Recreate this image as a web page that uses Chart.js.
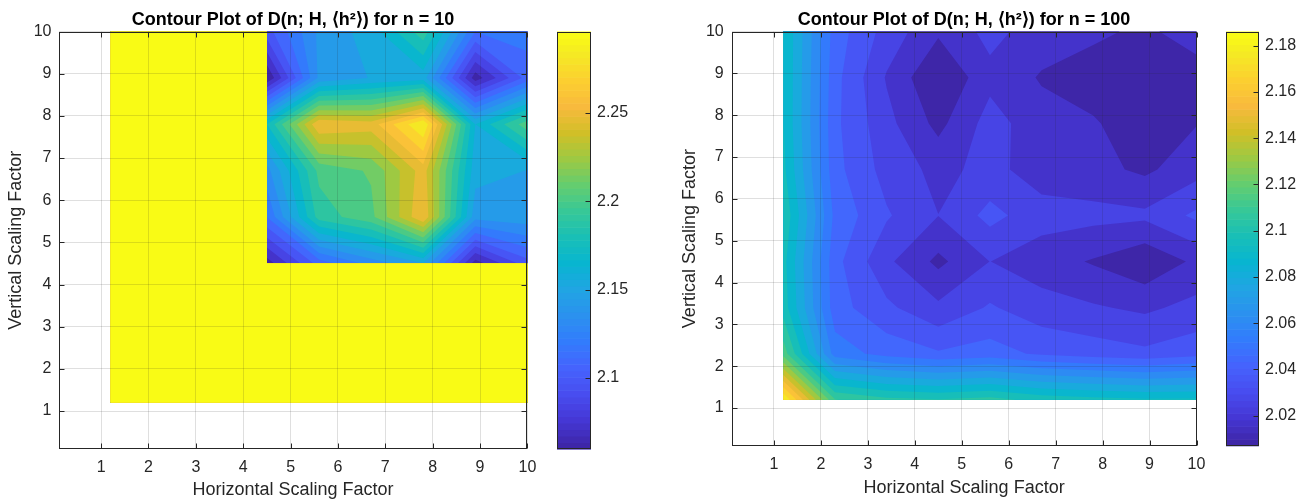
<!DOCTYPE html>
<html>
<head>
<meta charset="utf-8">
<script src="https://cdn.jsdelivr.net/npm/chart.js@4.4.1/dist/chart.umd.min.js"></script>
<style>
  body { margin: 0; background: #fff; width: 1307px; height: 501px; overflow: hidden; position: relative; }
  canvas { position: absolute; top: 0; }
</style>
</head>
<body>
<canvas id="mapN10" width="545" height="501" style="left:0px"></canvas>
<canvas id="barN10" width="90" height="501" style="left:557px"></canvas>
<canvas id="mapN100" width="541" height="501" style="left:674px"></canvas>
<canvas id="barN100" width="81" height="501" style="left:1226px"></canvas>
<script>
// sampling grid of the scaling factors (same for both maps)
const xFactors = [1.2, 2.3, 3.4, 4.5, 5.6, 6.7, 7.8, 8.9, 10];
const yFactors = [1.2, 2.3, 3.4, 4.5, 5.6, 6.7, 7.8, 8.9, 10];
const axisTicks = [1, 2, 3, 4, 5, 6, 7, 8, 9, 10];

const INF = Infinity;
// D(n; H, <h^2>), rows from vertical factor 10 down to 1.2
const dimN10 = [
  [INF, INF, INF, 2.102, 2.145, 2.160, 2.197, 2.119, 2.124],
  [INF, INF, INF, 2.0598, 2.145, 2.155, 2.160, 2.065, 2.112],
  [INF, INF, INF, 2.178, 2.260, 2.255, 2.2961, 2.166, 2.209],
  [INF, INF, INF, 2.138, 2.205, 2.215, 2.255, 2.159, 2.154],
  [INF, INF, INF, 2.119, 2.195, 2.210, 2.260, 2.147, 2.150],
  [INF, INF, INF, 2.065, 2.112, 2.135, 2.154, 2.065, 2.102],
  [INF, INF, INF, INF, INF, INF, INF, INF, INF],
  [INF, INF, INF, INF, INF, INF, INF, INF, INF],
  [INF, INF, INF, INF, INF, INF, INF, INF, INF]
];
const dimN100 = [
  [2.0970, 2.0475, 2.0304, 2.0174, 2.0277, 2.0205, 2.0178, 2.0142, 2.0205],
  [2.0970, 2.0457, 2.0241, 2.0070, 2.0223, 2.0151, 2.0115, 2.0097, 2.0115],
  [2.0970, 2.0448, 2.0277, 2.0133, 2.0286, 2.0196, 2.0169, 2.0106, 2.0156],
  [2.0988, 2.0457, 2.0304, 2.0223, 2.0277, 2.0205, 2.0187, 2.0142, 2.0214],
  [2.1042, 2.0493, 2.0349, 2.0250, 2.0367, 2.0286, 2.0277, 2.0268, 2.0358],
  [2.0997, 2.0457, 2.0268, 2.0138, 2.0250, 2.0201, 2.0151, 2.0088, 2.0178],
  [2.1015, 2.0466, 2.0358, 2.0268, 2.0349, 2.0286, 2.0259, 2.0232, 2.0277],
  [2.1195, 2.0565, 2.0484, 2.0439, 2.0466, 2.0412, 2.0385, 2.0358, 2.0394],
  [2.1861, 2.1150, 2.1080, 2.1060, 2.1087, 2.1024, 2.0997, 2.0979, 2.0979]
];
const cbTicksN10 = [2.1, 2.15, 2.2, 2.25];
const cbTicksN100 = [2.02, 2.04, 2.06, 2.08, 2.1, 2.12, 2.14, 2.16, 2.18];

const FONT = '"Liberation Sans", Arial, Helvetica, sans-serif';
const INK = '#262626';
const GRID = 'rgba(38,38,38,0.15)';
const N_LEVELS = 20;

// parula, sampled every 4th entry of the 64-colour table
const PARULA = [
  [62, 38, 168], [69, 55, 213], [72, 77, 240], [69, 99, 253], [50, 124, 252],
  [43, 145, 239], [32, 165, 227], [8, 181, 208], [25, 191, 182], [55, 200, 151],
  [100, 205, 111], [157, 201, 67], [209, 191, 39], [248, 186, 61], [252, 207, 48],
  [245, 233, 36], [249, 251, 21]
];
const PARULA_POS = PARULA.map((_, i) => Math.min(i * 4, 63) / 63);

function parula(f) {
  f = Math.max(0, Math.min(1, f));
  let i = 0;
  while (i < PARULA.length - 2 && f > PARULA_POS[i + 1]) i++;
  const t = (f - PARULA_POS[i]) / (PARULA_POS[i + 1] - PARULA_POS[i]);
  const c = PARULA[i].map((v, k) => Math.round(v + (PARULA[i + 1][k] - v) * t));
  return `rgb(${c[0]},${c[1]},${c[2]})`;
}

function finiteRange(rows) {
  const vals = rows.flat().filter(Number.isFinite);
  return [Math.min(...vals), Math.max(...vals)];
}

function crossT(va, vb, c) {
  if (!Number.isFinite(va)) return 1;
  if (!Number.isFinite(vb)) return 0;
  return (c - va) / (vb - va);
}

// filled contours: marching squares, one path per level so cells join without seams
const contourFill = {
  id: 'contourFill',
  beforeDraw(chart, args, opts) {
    const { ctx, scales: { x, y } } = chart;
    const z = opts.rows.slice().reverse();
    const px = xFactors.map(v => x.getPixelForValue(v));
    const py = yFactors.map(v => y.getPixelForValue(v));
    const [lo, hi] = finiteRange(opts.rows);
    const step = (hi - lo) / N_LEVELS;
    ctx.save();
    for (let k = 0; k <= N_LEVELS; k++) {
      const c = k === N_LEVELS ? hi : lo + k * step;
      ctx.beginPath();
      for (let j = 0; j < yFactors.length - 1; j++) {
        for (let i = 0; i < xFactors.length - 1; i++) {
          const corners = [[i, j], [i + 1, j], [i + 1, j + 1], [i, j + 1]];
          const pts = [];
          for (let m = 0; m < 4; m++) {
            const [ia, ja] = corners[m];
            const [ib, jb] = corners[(m + 1) % 4];
            const va = z[ja][ia], vb = z[jb][ib];
            if (va >= c) pts.push([px[ia], py[ja]]);
            if ((va >= c) !== (vb >= c)) {
              const t = crossT(va, vb, c);
              pts.push([px[ia] + (px[ib] - px[ia]) * t, py[ja] + (py[jb] - py[ja]) * t]);
            }
          }
          if (pts.length < 3) continue;
          ctx.moveTo(pts[0][0], pts[0][1]);
          for (let p = 1; p < pts.length; p++) ctx.lineTo(pts[p][0], pts[p][1]);
          ctx.closePath();
        }
      }
      ctx.fillStyle = parula(k / N_LEVELS);
      ctx.fill();
    }
    ctx.restore();
  }
};

// box around the axes with inward ticks on all four sides
const axesFrame = {
  id: 'axesFrame',
  afterDraw(chart) {
    const { ctx, chartArea: a, scales: { x, y } } = chart;
    const L = 5;
    const l = Math.round(a.left) + 0.5, r = Math.round(a.right) - 0.5;
    const t = Math.round(a.top) + 0.5, b = Math.round(a.bottom) - 0.5;
    ctx.save();
    ctx.strokeStyle = INK;
    ctx.lineWidth = 1;
    ctx.beginPath();
    for (const v of axisTicks) {
      const p = Math.round(x.getPixelForValue(v)) + 0.5;
      ctx.moveTo(p, b); ctx.lineTo(p, b - L);
      ctx.moveTo(p, t); ctx.lineTo(p, t + L);
      const q = Math.round(y.getPixelForValue(v)) + 0.5;
      ctx.moveTo(l, q); ctx.lineTo(l + L, q);
      ctx.moveTo(r, q); ctx.lineTo(r - L, q);
    }
    ctx.stroke();
    ctx.strokeRect(l, t, r - l, b - t);
    ctx.restore();
  }
};

// colour bar body drawn through its own value scale
const colorStrip = {
  id: 'colorStrip',
  beforeDraw(chart) {
    const { ctx, chartArea: a, scales: { y } } = chart;
    const n = 64;
    ctx.save();
    for (let k = 0; k < n; k++) {
      const v0 = y.min + (y.max - y.min) * k / n;
      const v1 = y.min + (y.max - y.min) * (k + 1) / n;
      const top = y.getPixelForValue(v1), bot = y.getPixelForValue(v0);
      ctx.fillStyle = parula(k / (n - 1));
      ctx.fillRect(a.left, top, a.right - a.left, bot - top + 0.6);
    }
    ctx.restore();
  },
  afterDraw(chart) {
    const { ctx, chartArea: a, scales: { y } } = chart;
    const l = Math.round(a.left) + 0.5, r = Math.round(a.right) - 0.5;
    const t = Math.round(a.top) + 0.5, b = Math.round(a.bottom) - 0.5;
    ctx.save();
    ctx.strokeStyle = INK;
    ctx.lineWidth = 1;
    ctx.beginPath();
    for (const tk of y.ticks) {
      const q = Math.round(y.getPixelForValue(tk.value)) + 0.5;
      ctx.moveTo(r, q); ctx.lineTo(r - 5, q);
    }
    ctx.stroke();
    ctx.strokeRect(l, t, r - l, b - t);
    ctx.restore();
  }
};

function mapChart(id, title, rows, dims) {
  return new Chart(document.getElementById(id), {
    type: 'scatter',
    data: { datasets: [] },
    plugins: [contourFill, axesFrame],
    options: {
      responsive: false,
      animation: false,
      devicePixelRatio: 1,
      events: [],
      layout: { padding: { left: 0, right: dims.padRight, top: 0, bottom: 0 } },
      plugins: {
        legend: { display: false },
        tooltip: { enabled: false },
        title: {
          display: true,
          text: title,
          fullSize: false,
          color: '#000',
          font: { family: FONT, size: 18, weight: 'bold', lineHeight: 1.2 },
          padding: { top: 8.9, bottom: 1 }
        },
        contourFill: { rows }
      },
      scales: {
        x: {
          type: 'linear', min: 0.1, max: 10,
          afterBuildTicks: s => { s.ticks = axisTicks.map(v => ({ value: v })); },
          afterFit: s => { s.height = dims.xAxisH; },
          grid: { color: GRID, drawTicks: false },
          border: { display: false },
          ticks: {
            color: INK, padding: dims.xTickPad, maxRotation: 0, autoSkip: false,
            font: { family: FONT, size: 16 }, callback: v => v
          },
          title: {
            display: true, text: 'Horizontal Scaling Factor', color: INK,
            font: { family: FONT, size: 18, lineHeight: 1.2 },
            padding: { top: 0, bottom: dims.xTitlePad }
          }
        },
        y: {
          type: 'linear', min: 0.1, max: 10,
          afterBuildTicks: s => { s.ticks = axisTicks.map(v => ({ value: v })); },
          afterFit: s => { s.width = dims.yAxisW; },
          grid: { color: GRID, drawTicks: false },
          border: { display: false },
          ticks: {
            color: INK, padding: dims.yTickPad, autoSkip: false,
            font: { family: FONT, size: 16 }, callback: v => v
          },
          title: {
            display: true, text: 'Vertical Scaling Factor', color: INK,
            font: { family: FONT, size: 18, lineHeight: 1.2 },
            padding: { top: 5.2, bottom: 0 }
          }
        }
      }
    }
  });
}

function barChart(id, rows, ticks, dims) {
  const [lo, hi] = finiteRange(rows);
  return new Chart(document.getElementById(id), {
    type: 'scatter',
    data: { datasets: [] },
    plugins: [colorStrip],
    options: {
      responsive: false,
      animation: false,
      devicePixelRatio: 1,
      events: [],
      layout: { padding: { left: 0, right: 0, top: 31.5, bottom: dims.padBottom } },
      plugins: { legend: { display: false }, tooltip: { enabled: false } },
      scales: {
        x: { display: false, min: 0, max: 1 },
        y: {
          type: 'linear', position: 'right', min: lo, max: hi,
          afterBuildTicks: s => { s.ticks = ticks.map(v => ({ value: v })); },
          afterFit: s => { s.width = dims.axisW; },
          grid: { display: false, drawTicks: false },
          border: { display: false },
          ticks: {
            color: INK, padding: 6, font: { family: FONT, size: 16 },
            callback: v => String(+Number(v).toFixed(2))
          }
        }
      }
    }
  });
}

mapChart('mapN10', 'Contour Plot of D(n; H, \u27E8h\u00B2\u27E9) for n = 10', dimN10,
  { padRight: 14.5, xAxisH: 52, xTickPad: 8.7, xTitlePad: 0.2, yAxisW: 58.5, yTickPad: 7 });
barChart('barN10', dimN10, cbTicksN10, { padBottom: 52, axisW: 56 });

mapChart('mapN100', 'Contour Plot of D(n; H, \u27E8h\u00B2\u27E9) for n = 100', dimN100,
  { padRight: 15, xAxisH: 55.3, xTickPad: 9.6, xTitlePad: 2.2, yAxisW: 57.7, yTickPad: 8 });
barChart('barN100', dimN100, cbTicksN100, { padBottom: 55.3, axisW: 48 });
</script>
</body>
</html>
